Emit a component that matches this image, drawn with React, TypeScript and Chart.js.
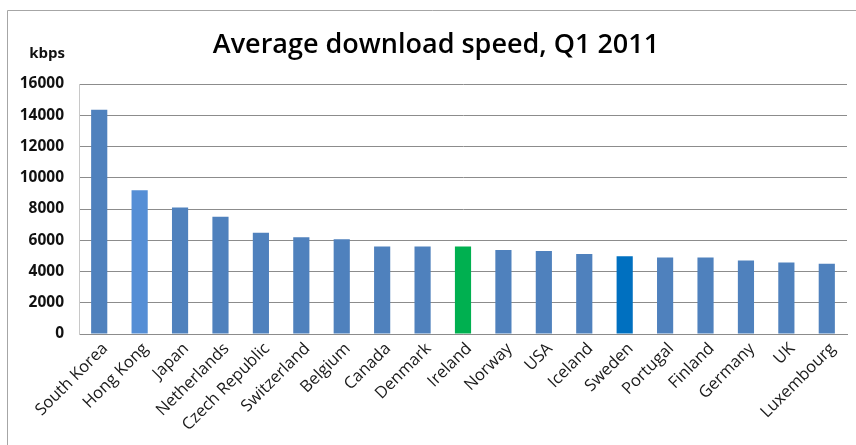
import React, { useEffect, useRef } from "react";
import { Chart, registerables } from "chart.js";

Chart.register(...registerables);

// Average download speed by country, Q1 2011 (kbps)
const countries = [
  "South Korea", "Hong Kong", "Japan", "Netherlands", "Czech Republic",
  "Switzerland", "Belgium", "Canada", "Denmark", "Ireland", "Norway",
  "USA", "Iceland", "Sweden", "Portugal", "Finland", "Germany", "UK", "Luxembourg",
];
const speedsKbps = [
  14350, 9200, 8100, 7500, 6480, 6200, 6060, 5600, 5600, 5600, 5380,
  5310, 5120, 4980, 4900, 4900, 4700, 4580, 4500,
];
const barColors = [
  "#4F81BD", "#558ED5", "#4F81BD", "#4F81BD", "#4F81BD", "#4F81BD",
  "#4F81BD", "#4F81BD", "#4F81BD", "#00B050", "#4F81BD", "#4F81BD",
  "#4F81BD", "#0070C0", "#4F81BD", "#4F81BD", "#4F81BD", "#4F81BD", "#4F81BD",
];
const yTickValues = [0, 2000, 4000, 6000, 8000, 10000, 12000, 14000, 16000];
const titleText = "Average download speed, Q1 2011";
const unitLabel = "kbps";

const FONT = "'Open Sans', 'Noto Sans', sans-serif";

// Frame, heading and the unit label above the value axis
const decorations = {
  id: "decorations",
  beforeDraw(chart: Chart) {
    const ctx = chart.ctx;
    ctx.save();
    ctx.fillStyle = "#ffffff";
    ctx.fillRect(0, 0, chart.width, chart.height);
    ctx.strokeStyle = "#a6a6a6";
    ctx.lineWidth = 1;
    ctx.beginPath();
    ctx.moveTo(7.5, chart.height + 2);
    ctx.lineTo(7.5, 10.5);
    ctx.lineTo(chart.width + 2, 10.5);
    ctx.stroke();
    ctx.restore();
  },
  afterDraw(chart: Chart) {
    const ctx = chart.ctx;
    const area = chart.chartArea;
    ctx.save();
    ctx.fillStyle = "#000000";
    ctx.font = `600 27px ${FONT}`;
    ctx.textAlign = "center";
    ctx.textBaseline = "middle";
    ctx.fillText(titleText, 436, 45);

    ctx.fillStyle = "#111111";
    ctx.font = `bold 15px ${FONT}`;
    ctx.textAlign = "right";
    ctx.textBaseline = "alphabetic";
    ctx.fillText(unitLabel, area.left - 14, 58);
    ctx.restore();
  },
};

export default function App() {
  const canvasRef = useRef<HTMLCanvasElement | null>(null);

  useEffect(() => {
    document.body.style.margin = "0";
    const canvas = canvasRef.current;
    if (!canvas) return;
    const chart = new Chart(canvas, {
      type: "bar",
      data: {
        labels: countries,
        datasets: [
          {
            label: "Average download speed",
            data: speedsKbps,
            backgroundColor: barColors,
            borderWidth: 0,
            barPercentage: 0.4,
            categoryPercentage: 1,
          },
        ],
      },
      options: {
        responsive: false,
        animation: false,
        layout: { padding: { left: 8, right: 9, top: 84, bottom: 0 } },
        plugins: {
          legend: { display: false },
          tooltip: { enabled: false },
          title: { display: false },
        },
        scales: {
          x: {
            grid: { display: false, drawTicks: false },
            border: { display: true, color: "#8c8c8c", width: 1 },
            ticks: {
              color: "#1a1a1a",
              font: { family: FONT, size: 16.5 },
              minRotation: 45,
              maxRotation: 45,
              autoSkip: false,
              padding: 5,
              labelOffset: 6,
            },
            afterFit(scale: any) {
              scale.height = 111;
            },
          },
          y: {
            min: 0,
            max: 16000,
            afterBuildTicks(scale: any) {
              scale.ticks = yTickValues.map((v) => ({ value: v }));
            },
            grid: { color: "#8c8c8c", lineWidth: 1, drawTicks: false },
            border: { display: true, color: "#c8c8c8", width: 1 },
            ticks: {
              color: "#111111",
              font: { family: FONT, size: 15.5, weight: "bold" },
              padding: 15,
              callback: (value: any) => String(value),
            },
            afterFit(scale: any) {
              scale.width = 71;
            },
          },
        },
      },
      plugins: [decorations],
    });
    return () => chart.destroy();
  }, []);

  return (
    <div style={{ position: "fixed", left: 0, top: 0, width: 856, height: 445, background: "#fff" }}>
      <canvas ref={canvasRef} width={856} height={445} />
    </div>
  );
}
